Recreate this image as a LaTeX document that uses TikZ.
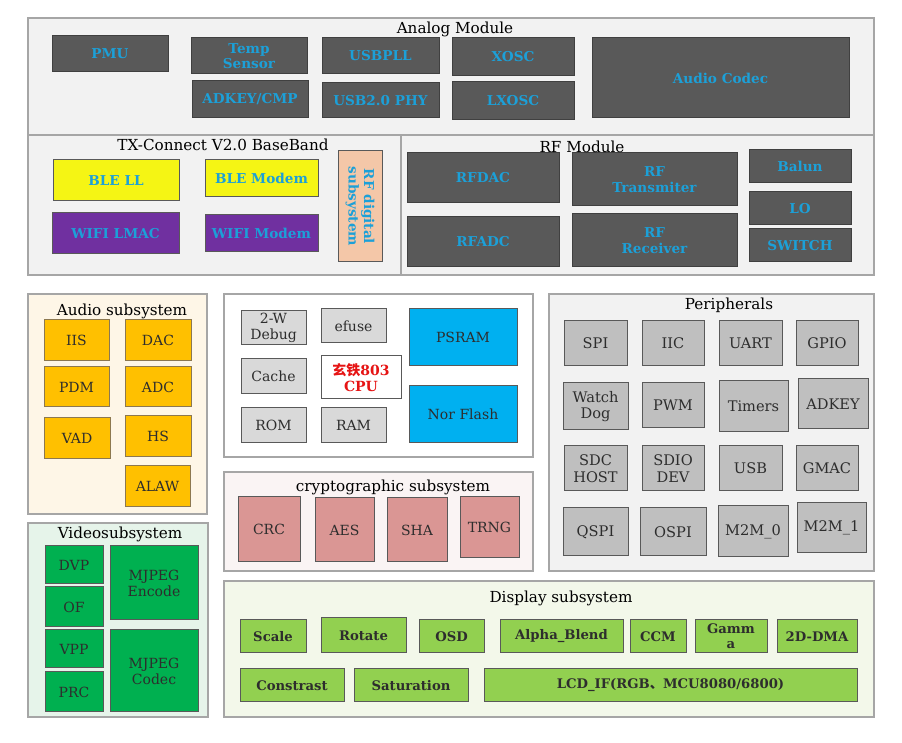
\documentclass[tikz,border=0pt]{standalone}
\usepackage{fontspec}
\setmainfont{DejaVu Serif}
\newfontfamily\cjk{Noto Sans CJK SC}
\usepackage{tikz}
\usetikzlibrary{positioning}
\definecolor{grpline}{RGB}{166,166,166}
\definecolor{anafill}{RGB}{89,89,89}
\definecolor{anaedge}{RGB}{64,64,64}
\definecolor{anatext}{RGB}{28,160,216}
\definecolor{txtgray}{RGB}{45,45,45}
\definecolor{bleyel}{RGB}{245,245,20}
\definecolor{wifipur}{RGB}{112,48,160}
\definecolor{rfpeach}{RGB}{244,199,168}
\definecolor{audfill}{RGB}{255,192,0}
\definecolor{audedge}{RGB}{140,120,80}
\definecolor{audbg}{RGB}{254,246,231}
\definecolor{cpugray}{RGB}{217,217,217}
\definecolor{psblue}{RGB}{0,176,240}
\definecolor{perfill}{RGB}{191,191,191}
\definecolor{crfill}{RGB}{218,150,148}
\definecolor{crbg}{RGB}{250,244,244}
\definecolor{vidfill}{RGB}{0,176,80}
\definecolor{vidbg}{RGB}{230,244,234}
\definecolor{disfill}{RGB}{146,208,80}
\definecolor{disbg}{RGB}{243,248,234}
\definecolor{cpured}{RGB}{230,20,20}
\tikzset{
  sz/.style 2 args={minimum width=#1*0.5pt, minimum height=#2*0.5pt},
  grp/.style={draw=grpline, line width=0.8pt, inner sep=0pt, outer sep=0pt},
  ttl/.style={font=\fontsize{7.6}{8}\selectfont, text=black, inner sep=0pt},
  blk/.style={draw=gray!70!black, line width=0.5pt, inner sep=0pt, outer sep=0pt,
    align=center, text=txtgray, font=\fontsize{7}{8}\selectfont},
  anablk/.style={blk, fill=anafill, draw=anaedge, text=anatext,
    font=\bfseries\fontsize{6.8}{7.8}\selectfont},
  bleblk/.style={anablk, fill=bleyel, draw=gray!70!black},
  wifiblk/.style={anablk, fill=wifipur, draw=gray!70!black},
  audblk/.style={blk, fill=audfill, draw=audedge},
  cpublk/.style={blk, fill=cpugray},
  memblk/.style={blk, fill=psblue},
  perblk/.style={blk, fill=perfill, font=\fontsize{7.3}{8.4}\selectfont},
  crblk/.style={blk, fill=crfill},
  vidblk/.style={blk, fill=vidfill},
  disblk/.style={blk, fill=disfill, font=\bfseries\fontsize{6.6}{7.4}\selectfont},
}

\begin{document}
\begin{tikzpicture}[x=0.5pt, y=-0.5pt]
    \useasboundingbox (0,0) rectangle (902,743);
    % group frames
    \node[grp, fill=gray!10, sz={846}{117}] (analog) at (451,76.5) {};
    \node[grp, fill=gray!10, sz={373}{140}] (txbb) at (214.5,205) {};
    \node[grp, fill=gray!10, sz={473}{140}] (rfmod) at (637.5,205) {};
    \node[grp, fill=audbg, sz={179}{220}] (audio) at (117.5,404) {};
    \node[grp, fill=white, sz={309}{163}] (cpusys) at (378.5,375.5) {};
    \node[grp, fill=gray!10, sz={325}{277}] (periph) at (711.5,432.5) {};
    \node[grp, fill=crbg, sz={309}{99}] (crypto) at (378.5,521.5) {};
    \node[grp, fill=vidbg, sz={180}{194}] (video) at (118,620) {};
    \node[grp, fill=disbg, sz={650}{136}] (display) at (549,649) {};

    % analog module
    \node[ttl] (analogttl) at (455,29) {Analog Module};
    \node[anablk, sz={116}{36}] (pmu) at (110,54) {PMU};
    \node[anablk, sz={116}{36}] (temp) at (249,56) {Temp\\Sensor};
    \node[anablk, sz={116}{37}] (adkeycmp) at (250,99.5) {ADKEY/CMP};
    \node[anablk, sz={117}{36}] (usbpll) at (380.5,56) {USBPLL};
    \node[anablk, sz={117}{35}] (usbphy) at (380.5,100.5) {USB2.0 PHY};
    \node[anablk, sz={122}{38}] (xosc) at (513,57) {XOSC};
    \node[anablk, sz={122}{38}] (lxosc) at (513,101) {LXOSC};
    \node[anablk, sz={257}{80}] (codec) at (720.5,78) {Audio Codec};

    % baseband
    \node[ttl] (txbbttl) at (223,145) {TX-Connect V2.0 BaseBand};
    \node[bleblk, sz={126}{41}] (blell) at (116,180.5) {BLE LL};
    \node[bleblk, sz={113}{37}] (blemodem) at (261.5,178.5) {BLE Modem};
    \node[wifiblk, sz={127}{41}] (wifilmac) at (115.5,233.5) {WIFI LMAC};
    \node[wifiblk, sz={113}{37}] (wifimodem) at (261.5,233.5) {WIFI Modem};
    \node[anablk, fill=rfpeach, draw=gray!70!black, rotate=-90, sz={111}{44}] (rfdig)
      at (360,206.5) {RF digital\\subsystem};

    % rf module
    \node[anablk, sz={152}{50}] (rfdac) at (483,178) {RFDAC};
    \node[anablk, sz={152}{50}] (rfadc) at (483,242) {RFADC};
    \node[anablk, sz={165}{53}] (rftx) at (654.5,179.5) {RF\\Transmiter};
    \node[anablk, sz={165}{53}] (rfrx) at (654.5,240.5) {RF\\Receiver};
    \node[anablk, sz={102}{33}] (balun) at (800,166.5) {Balun};
    \node[anablk, sz={102}{33}] (lo) at (800,208.5) {LO};
    \node[anablk, sz={102}{33}] (switch) at (800,245.5) {SWITCH};
    \node[ttl] (rfttl) at (582,147) {RF Module};

    % audio subsystem
    \node[ttl] (audiottl) at (122,311) {Audio subsystem};
    \node[audblk, sz={65}{41}] (iis) at (76.5,340.5) {IIS};
    \node[audblk, sz={66}{41}] (dac) at (158,340.5) {DAC};
    \node[audblk, sz={65}{40}] (pdm) at (76.5,387) {PDM};
    \node[audblk, sz={66}{40}] (adc) at (158,387) {ADC};
    \node[audblk, sz={66}{41}] (vad) at (77,438.5) {VAD};
    \node[audblk, sz={66}{41}] (hs) at (158,436.5) {HS};
    \node[audblk, sz={65}{41}] (alaw) at (157.5,486.5) {ALAW};

    % cpu and memories
    \node[cpublk, sz={65}{34}] (dbg) at (273.5,328) {2-W\\Debug};
    \node[cpublk, sz={65}{34}] (efuse) at (353.5,326) {efuse};
    \node[cpublk, sz={65}{35}] (cache) at (273.5,376.5) {Cache};
    \node[blk, fill=white, text=cpured, sz={80}{43},
      font=\bfseries\fontsize{7}{8}\selectfont] (cpu) at (361,377.5) {{\cjk 玄铁}803\\CPU};
    \node[cpublk, sz={65}{35}] (rom) at (273.5,425.5) {ROM};
    \node[cpublk, sz={65}{35}] (ram) at (353.5,425.5) {RAM};
    \node[memblk, sz={108}{57}] (psram) at (463,337.5) {PSRAM};
    \node[memblk, sz={108}{57}] (norflash) at (463,414.5) {Nor Flash};

    % peripherals
    \node[ttl] (periphttl) at (729,305) {Peripherals};
    \node[perblk, sz={63}{45}] (spi) at (595.5,343.5) {SPI};
    \node[perblk, sz={62}{45}] (iic) at (673,343.5) {IIC};
    \node[perblk, sz={63}{45}] (uart) at (750.5,343.5) {UART};
    \node[perblk, sz={62}{45}] (gpio) at (827,343.5) {GPIO};
    \node[perblk, sz={65}{47}] (wdog) at (595.5,406.5) {Watch\\Dog};
    \node[perblk, sz={62}{45}] (pwm) at (673,405.5) {PWM};
    \node[perblk, sz={69}{51}] (timers) at (753.5,406.5) {Timers};
    \node[perblk, sz={70}{50}] (adkey) at (833,404) {ADKEY};
    \node[perblk, sz={63}{45}] (sdchost) at (595.5,468.5) {SDC\\HOST};
    \node[perblk, sz={62}{45}] (sdiodev) at (673,468.5) {SDIO\\DEV};
    \node[perblk, sz={63}{45}] (usb) at (750.5,468.5) {USB};
    \node[perblk, sz={62}{45}] (gmac) at (827,468.5) {GMAC};
    \node[perblk, sz={65}{48}] (qspi) at (595.5,532) {QSPI};
    \node[perblk, sz={66}{48}] (ospi) at (673,532) {OSPI};
    \node[perblk, sz={70}{51}] (mtm0) at (753,531.5) {M2M\_0};
    \node[perblk, sz={69}{50}] (mtm1) at (831.5,528) {M2M\_1};

    % crypto
    \node[ttl] (cryptottl) at (393,487) {cryptographic subsystem};
    \node[crblk, sz={62}{65}] (crc) at (269,529.5) {CRC};
    \node[crblk, sz={59}{64}] (aes) at (344.5,530) {AES};
    \node[crblk, sz={60}{64}] (sha) at (417,530) {SHA};
    \node[crblk, sz={59}{61}] (trng) at (489.5,527.5) {TRNG};

    % video
    \node[ttl] (videottl) at (120,534) {Videosubsystem};
    \node[vidblk, sz={58}{38}] (dvp) at (74,565) {DVP};
    \node[vidblk, sz={58}{40}] (of) at (74,607) {OF};
    \node[vidblk, sz={58}{38}] (vpp) at (74,649) {VPP};
    \node[vidblk, sz={58}{40}] (prc) at (74,692) {PRC};
    \node[vidblk, sz={88}{74}] (mjenc) at (154,583) {MJPEG\\Encode};
    \node[vidblk, sz={88}{82}] (mjcod) at (154,671) {MJPEG\\Codec};

    % display
    \node[ttl] (displayttl) at (561,598) {Display subsystem};
    \node[disblk, sz={66}{33}] (scale) at (273,636.5) {Scale};
    \node[disblk, sz={85}{35}] (rotate) at (363.5,635.5) {Rotate};
    \node[disblk, sz={65}{33}] (osd) at (451.5,636.5) {OSD};
    \node[disblk, sz={123}{33}] (alpha) at (561.5,636.5) {Alpha\_Blend};
    \node[disblk, sz={56}{33}] (ccm) at (658,636.5) {CCM};
    \node[disblk, sz={72}{33}] (gamma) at (731,636.5) {Gamm\\a};
    \node[disblk, sz={80}{33}] (dma) at (817,636.5) {2D-DMA};
    \node[disblk, sz={104}{33}] (contrast) at (292,685.5) {Constrast};
    \node[disblk, sz={114}{33}] (satur) at (411,685.5) {Saturation};
    \node[disblk, sz={373}{33}] (lcdif) at (670.5,685.5) {LCD\_IF(RGB{\cjk 、}MCU8080/6800)};
\end{tikzpicture}
\end{document}
